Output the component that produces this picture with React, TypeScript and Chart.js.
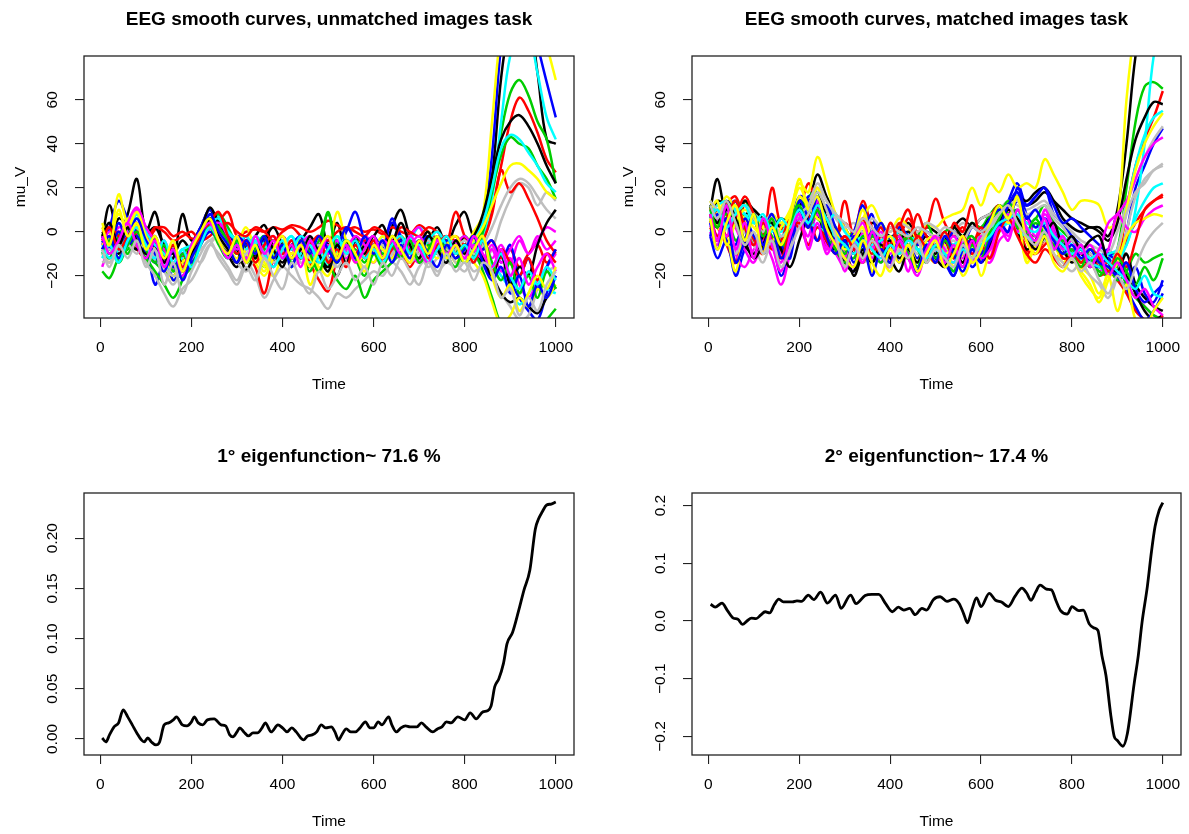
import React, { useEffect, useRef } from "react";
import { Chart, registerables } from "chart.js";

Chart.register(...registerables);

// ---- sampling grid of the smoothed EEG curves (ms) ----
const TIME = [4, 20, 40, 60, 80, 100, 120, 140, 160, 180, 200, 220, 240, 260, 280, 300, 320, 340, 360, 380, 400, 420, 440, 460, 480, 500, 520, 540, 560, 580, 600, 620, 640, 660, 680, 700, 720, 740, 760, 780, 800, 820, 840, 860, 880, 900, 920, 940, 960, 980, 1000];

// R default palette, cycled over the subjects
const PALETTE = ["#000000", "#FF0000", "#00CD00", "#0000FF", "#00FFFF", "#FF00FF", "#FFFF00", "#BEBEBE"];

// ---- unmatched images task: one row per subject (mu_V) ----
const UNMATCHED: number[][] = [
  [-3, 12, -2, 8, 24, 0, 9, -8, -12, 8, -4, 2, 10, 2, -4, -10, -6, -2, 3, -6, -2, -8, -4, 2, 8, -6, 4, -10, -2, -8, -4, -10, 2, 10, -2, -8, -4, 2, -6, 3, 9, -2, 6, 25, 70, 95, 100, 98, 72, 42, 40],
  [2, 0, -4, 3, -2, -6, 1, 2, -2, 0, -3, -2, 3, 5, 9, -2, 0, 1, 0, 2, 1, 3, 2, 0, 2, 5, 3, 1, 2, 0, 1, -1, 2, 0, -1, 3, 0, -3, -2, -4, -3, -6, -2, 10, 30, 50, 61, 55, 45, 33, 27],
  [-18, -21, -12, -8, -4, -10, -14, -18, -20, -20, -16, -6, 2, 8, -2, -8, -12, -6, -10, -14, -8, -12, -6, -10, -4, 8, -6, -12, -8, -14, -6, -10, -4, -8, -12, -6, -10, -4, -8, -6, -2, -6, 2, 20, 45, 63, 69, 62, 50, 42, 22],
  [-6, 2, 14, 6, 0, -6, -24, -14, -20, -12, -6, 2, 10, 4, -4, -8, -2, -10, -4, -14, -8, -4, -10, -6, -12, -4, -8, 0, 9, -4, -10, -6, 4, -2, -10, -4, -8, -2, -10, -6, -10, -4, 4, 35, 85, 110, 115, 105, 85, 68, 52],
  [-8, -10, -4, 2, 6, -2, -6, -10, -16, -10, -8, -2, 4, 7, 0, -6, -2, -8, -4, -10, -6, -2, -8, -4, -12, -8, -2, -6, -10, -4, -8, -2, -6, -10, -4, 2, -4, -8, -2, -6, -4, -8, -2, 15, 50, 80, 88, 90, 72, 52, 42],
  [-16, -6, 2, 0, 10, 2, -8, -4, -14, -8, -10, 0, 5, 2, -6, -2, -8, -4, -12, -6, -2, -8, -4, -10, -6, -14, -8, -4, -10, -2, -6, -10, -4, -8, -2, 2, -6, -2, -8, -4, -6, -10, -4, -12, -6, -14, -4, -10, -2, -8, -4],
  [4, -4, 17, 4, 8, -4, -10, -14, -22, -16, -14, -6, 0, -4, -10, -6, 2, -8, -14, -20, -10, -4, -12, -6, -18, -10, 9, -4, -10, -16, -8, -2, -8, -4, -10, -6, 0, -8, -4, -2, -6, 0, 8, 50, 92, 110, 115, 110, 100, 85, 69],
  [-14, -12, -8, -2, -4, -14, -20, -28, -34, -26, -22, -14, -6, -10, -16, -22, -14, -20, -30, -22, -16, -20, -24, -26, -30, -35, -28, -30, -26, -22, -18, -20, -14, -18, -24, -16, -12, -18, -14, -16, -12, -18, -14, -8, 5, 15, 22, 20, 12, 18, 14],
  [0, -4, 6, 2, -6, -2, 2, -6, -10, -4, -8, -2, 6, 2, -10, -16, -6, -12, -4, -8, -14, -6, -10, -16, -6, -12, -20, -8, -4, -10, -6, -12, -2, -8, -14, -6, -10, -4, -8, -12, -6, -2, 8, 25, 42, 50, 53, 48, 40, 30, 22],
  [-2, -6, 0, -4, -8, -12, -6, -10, -16, -12, -8, -4, 2, 6, 0, -4, -10, -16, -28, -12, -6, -10, -4, -14, -22, -27, -12, -6, -10, -4, -8, -12, -6, -10, -16, -8, -4, -10, -6, 9, -2, -8, -4, 8, 28, 18, 22, 15, 6, -4, -10],
  [-4, -10, -2, 4, -6, -12, -18, -24, -30, -22, -12, -4, 4, 8, 2, -6, -12, -8, -16, -10, -6, -14, -10, -18, -8, -14, -22, -26, -20, -30, -22, -18, -14, -10, -8, -12, -6, -10, -4, -8, -6, -10, 0, 18, 35, 43, 40, 38, 30, 24, 15],
  [-2, -8, 4, -4, 2, -8, -14, -10, -22, -16, -10, -2, 8, 4, -2, -6, -12, -6, -10, -16, -8, -12, -4, -8, -14, -10, -4, -8, -12, -6, -2, -8, 6, -4, -10, -6, -2, -8, -12, -6, -10, -14, -6, -16, -10, -22, -30, -36, -40, -28, -20],
  [-10, -4, -12, -6, 4, -4, -10, -14, -18, -12, -14, -6, 2, 6, 0, -4, -10, -6, -2, -8, -12, -6, -10, -14, -8, -16, -10, -6, -12, -8, -4, -10, -6, -12, -8, -4, -10, -6, -12, -8, -10, -4, 4, 20, 38, 44, 42, 36, 30, 22, 18],
  [-6, 0, -8, -2, 4, -6, -12, -8, -16, -20, -12, -4, 2, -4, -10, -6, -12, -4, -8, -14, -10, -4, -8, -12, -6, -10, -4, -12, -6, -10, -14, -8, -12, -4, -10, -14, -6, -10, -4, -8, -12, -6, -14, -8, -18, -12, -24, -30, -22, -16, -10],
  [-10, -14, -6, 6, 2, -4, -8, -12, -18, -14, -6, -2, 4, 0, -6, -12, -4, -10, -18, -8, -2, -12, -6, -24, -14, -8, -2, -10, -4, -8, -14, -6, -10, -2, -8, -12, -4, -10, -6, -14, -8, -4, 2, 12, 22, 30, 31, 28, 24, 18, 15],
  [-10, -14, -6, -10, -2, -8, -12, -18, -24, -16, -10, -14, -6, -2, -8, -14, -18, -12, -8, -14, -10, -16, -12, -6, -10, -18, -14, -8, -12, -16, -10, -6, -12, -8, -14, -10, -16, -12, -8, -14, -18, -12, -16, -20, -28, -34, -40, -38, -26, -18, -16],
  [-8, -2, -10, -4, -8, 2, -6, -12, -8, -14, -6, 0, 11, 4, -2, -8, -17, -10, -4, 2, -6, -12, -8, -2, -10, -16, -8, -4, -12, -6, -2, 3, -8, -4, -10, -6, 0, -10, -4, -8, -2, -10, -14, -20, -28, -32, -30, -34, -37, -30, -25],
  [0, 2, -2, -6, 0, -4, 2, 0, -4, -2, 0, -4, -2, 2, 4, 0, -2, 2, 0, -4, 0, 2, -2, -6, -2, -4, 0, 2, 0, -2, 2, 0, -4, 2, 0, -2, 2, 0, -4, -2, -6, -2, -8, -4, -12, -8, -16, -10, -6, -14, -8],
  [-8, -12, -4, -10, -2, -8, -4, -10, -14, -10, -6, 0, 6, 2, -4, -10, -6, -12, -8, -4, -10, -6, -12, -4, -8, 9, -10, -6, -12, -8, -4, -10, -6, -2, -8, -12, -6, -10, -4, -8, -14, -10, -18, -30, -42, -45, -50, -48, -45, -40, -35],
  [-4, -8, 0, -6, -2, -10, -6, -12, -16, -10, -14, -6, 0, -4, -8, -2, -6, -10, -4, -8, -12, -6, -2, -10, -6, -12, -8, 2, -4, -10, -6, -12, -8, -4, -10, -6, -2, -8, -4, -10, -6, -12, -8, -4, -14, -6, -20, -12, -26, -16, -8],
  [-6, -12, -8, -2, 8, 0, -6, -10, -14, -8, -6, 0, 4, 6, 0, -4, -8, -2, -6, -10, -4, -8, -2, -6, -10, -14, -8, -4, -6, -10, -4, -8, -12, -6, -2, -8, -4, 0, -6, -10, -8, -12, -6, -14, -20, -26, -33, -28, -22, -26, -28],
  [-4, 2, -6, 4, 11, 2, -4, -8, -14, -10, -12, -4, 2, 4, -2, -8, -4, -10, -6, -2, -8, -12, -6, -2, -10, -6, -12, -8, -2, -6, -10, -4, -8, -12, -6, -2, -8, -4, -10, -6, -2, -8, -12, -6, -14, -8, -2, -10, -4, 2, 0],
  [-6, -2, 8, 2, 9, -2, -10, -16, -20, -14, -10, -4, 2, -2, -8, -4, -10, -14, -20, -12, -6, -10, -4, -12, -16, -20, -10, -6, -14, -10, -4, -8, -12, -6, -10, -4, -8, -12, -6, -2, -10, -14, -20, -32, -42, -38, -30, -34, -26, -30, -24],
  [-12, -8, -14, -6, -10, -4, -12, -16, -20, -18, -12, -8, -4, -2, -8, -14, -10, -6, -12, -16, -10, -6, -14, -10, -6, -12, -16, -10, -6, -12, -8, -14, -10, -6, -12, -8, -4, -10, -14, -8, -4, -10, -6, 2, 12, 20, 24, 22, 16, 10, 6],
  [-2, 4, -6, 2, -4, -10, -2, -14, -6, -18, -10, -4, 6, -2, -8, -14, -4, -12, -2, -8, -16, -6, -12, -2, -10, -18, -6, -14, -4, -10, -2, -12, -6, 4, -6, -12, -2, -8, -14, -4, -10, -2, -12, -20, -10, -24, -16, -20, -6, 4, 10],
  [-4, 2, -8, -2, 4, -8, -4, -12, -6, -16, -8, -2, 4, 9, -2, -10, -4, -14, -6, -2, -10, -4, -12, -6, -2, -14, -8, -16, -6, -12, -4, -14, -8, -2, -10, -4, -12, -6, -2, -10, -6, -14, -4, -18, -8, -14, -20, -12, -22, -10, -14],
  [-10, -4, -14, -6, 0, -8, -14, -6, -18, -10, -16, -4, 2, -6, -12, -4, -14, -8, -2, -12, -6, -16, -4, -10, -18, -8, -14, -4, -12, -20, -10, -16, -6, -12, -4, -14, -8, -2, -10, -16, -6, -12, -4, -14, -22, -14, -28, -20, -30, -18, -26],
  [-8, -2, -12, -4, 6, -4, -10, -18, -8, -22, -12, -4, 8, 0, -6, -14, -4, -10, -2, -12, -6, -16, -4, -10, -2, -8, -14, -6, -12, -2, -10, -4, -14, -6, -12, -4, -10, -16, -6, -12, -8, -2, -14, -22, -16, -28, -20, -34, -24, -30, -20],
  [-12, -6, -14, -4, 2, -6, -12, -4, -14, -8, -16, -6, 2, -4, -12, -6, -14, -4, -10, -16, -8, -2, -12, -6, -14, -8, -2, -10, -4, -12, -8, -14, -6, -2, -10, -6, -14, -8, -2, -10, -6, -12, -4, -16, -10, -20, -26, -18, -24, -16, -22],
  [-2, -10, -4, 4, -6, -12, -4, -16, -8, -18, -6, 0, 4, -4, -12, -6, -14, -2, -10, -4, -12, -6, -16, -4, -10, -2, -12, -6, -14, -8, -2, -12, -4, -10, -2, -8, -14, -4, -10, -6, -12, -2, -10, -16, -8, -20, -12, -24, -16, -10, -18],
  [2, -6, 10, -2, 4, -8, -2, -12, -4, -18, -8, 0, 6, -4, -10, -2, -14, -6, -16, -8, -2, -12, -6, -16, -8, -2, -12, -4, -10, -18, -6, -12, -2, -8, -14, -4, -10, -2, -12, -6, -14, -8, -2, -20, -30, -24, -36, -28, -20, -26, -16],
  [-8, -16, -6, -12, -4, -16, -8, -24, -14, -28, -18, -10, -4, -12, -18, -24, -16, -22, -12, -20, -26, -14, -22, -28, -18, -26, -20, -14, -22, -16, -24, -14, -20, -12, -18, -24, -14, -20, -10, -18, -14, -22, -14, -18, -30, -26, -38, -30, -36, -24, -18],
];

// ---- matched images task: one row per subject (mu_V) ----
const MATCHED: number[][] = [
  [10, 24, 8, 12, 8, 10, 4, 6, 2, 6, 14, 14, 26, 16, 8, 2, -4, 0, 4, 2, -2, 0, 4, -2, 2, 0, -4, 2, 6, 2, 6, 8, 10, 12, 14, 12, 14, 18, 14, 10, 6, 4, 2, 2, -2, 10, 40, 80, 100, 110, 115],
  [6, 2, -6, -14, 14, 6, -4, 20, 2, -2, 8, 22, 12, 6, -2, 4, 0, 14, 2, -4, 2, -2, 6, 0, 2, 15, 4, -2, 2, -4, 0, 4, 8, 10, 6, -8, -10, -4, -6, -12, -12, -10, -14, -16, -18, -14, 10, 30, 42, 52, 64],
  [8, 4, 10, 2, 14, 6, 0, 4, -2, 2, 10, 16, 18, 10, 2, -4, 0, -6, -2, 4, -4, 0, -6, -2, 4, -4, 0, 2, -2, 4, 2, 8, 12, 8, 10, 4, 6, 12, 4, 0, -4, -8, -10, -14, -12, -8, 20, 50, 66, 68, 65],
  [-2, -12, -4, -20, -8, -4, -10, -6, -20, -8, 6, 16, 12, 2, -6, -12, -18, -4, 8, -10, -4, -14, -6, -12, -4, -8, -14, -20, -8, -16, -10, -2, 4, 14, 22, 12, 16, 20, 8, 4, -2, -6, -10, -12, -8, -14, 0, 20, 30, 40, 47],
  [0, 4, 10, 12, 8, 4, 2, 6, 4, 0, 2, 6, 8, 4, 0, -4, -6, -2, -6, -4, -8, -6, -4, -8, -6, -4, -8, -10, -6, -4, -8, -4, 0, 4, 2, -2, -4, 0, -6, -8, -10, -12, -10, -14, -12, -10, -6, 10, 40, 80, 95],
  [0, -6, 6, -10, -16, -8, -4, -12, -24, -10, 2, -6, 10, -8, -2, -10, -16, 0, -12, -4, -14, -6, -18, -2, -14, -6, -16, -8, -12, -4, -10, -14, -4, 0, 4, -2, -8, 4, -6, -10, -8, -14, -10, -18, -14, -20, -14, -28, -34, -38, -40],
  [12, 2, -2, -18, 2, 4, 2, 8, 4, 10, 22, 18, 34, 22, 8, 2, -4, 6, 12, 4, 0, 6, 2, -4, 4, 2, 6, 8, 10, 20, 12, 22, 18, 26, 20, 22, 20, 33, 26, 18, 10, 14, 14, 12, 2, 5, 60, 95, 115, 125, 130],
  [10, 6, 8, 12, 2, 10, 4, 8, -6, 4, 10, 14, 20, 14, 6, 2, 4, 0, 6, 2, 0, 4, 2, 0, 4, 2, -2, 0, 4, 2, 6, 8, 10, 14, 12, 10, 12, 14, 8, 4, 0, -4, -6, -8, -10, 0, 12, 24, 34, 42, 48],
  [6, 14, 12, 8, 14, 10, 6, 2, 6, 4, 12, 14, 16, 10, 0, -6, -20, -10, -6, -2, -8, -4, 0, -6, -2, -8, -4, 2, -2, 4, 0, 6, 2, 12, 16, 14, 18, 20, 14, 6, 2, 0, 2, 0, -4, 4, 24, 42, 52, 59, 58],
  [2, -4, 12, 16, 4, -4, -10, 4, -8, 0, 6, 2, 10, -6, -4, 14, -2, 6, -6, 2, -8, 2, 10, -4, -8, -2, -10, 4, 0, 12, -4, 6, 12, 4, 6, -10, -6, -2, -12, -10, -12, -14, -10, -16, -14, -18, -4, 4, 10, 14, 17],
  [4, 10, 6, 14, 6, 8, -2, 4, -6, 2, 8, 4, 12, 2, -4, -10, -6, -12, -4, -10, -6, -2, -8, -4, -10, -6, -14, -8, -4, -12, -8, 0, 10, 6, 4, 0, -2, 2, -4, -8, -12, -10, -14, -18, -20, -16, -24, -30, -34, -38, -40],
  [12, 6, 10, 14, 2, 6, 0, 8, -4, 4, 16, 14, 8, 12, 2, -4, 0, 12, -2, 4, -4, 2, -2, -6, 0, -4, -6, 0, -6, 2, 0, 6, 10, 8, 14, 12, 16, 20, 12, 4, 6, 2, -2, -6, -10, -14, -22, -16, -28, -32, -22],
  [6, -2, 2, 10, 12, 8, 4, 2, 0, 4, 2, 6, 2, 4, 8, 0, -4, -2, 0, -2, -4, 0, -2, -4, -6, -2, -4, -6, -8, -4, -2, 2, 4, 8, 6, 4, 2, 6, 2, -2, -6, -10, -8, -12, -10, -8, 10, 30, 44, 52, 55],
  [4, -2, 10, 2, -8, -14, -2, 6, -10, -4, 4, -2, 14, -6, -10, -16, -4, -12, -6, -14, -4, -8, -12, -18, -6, -14, -8, -2, -10, -14, -6, -12, 6, -2, 8, 0, -6, 10, 2, -4, -8, -6, -12, -8, 4, 8, 14, 24, 34, 40, 43],
  [14, 8, 16, 10, 6, 2, -2, 4, -4, 0, 16, 12, 20, 6, 0, -6, -2, 10, -4, -10, -18, -6, -12, -4, -10, -14, -6, -16, -10, -6, -20, -8, 0, 8, 2, -12, -6, 2, -4, -14, -10, -16, -20, -28, -18, -10, 10, 28, 40, 48, 54],
  [10, 6, 2, -10, 0, -6, -14, -4, -12, -6, 6, 10, 16, 4, -2, -12, -8, -14, -10, -6, -12, -8, -4, -10, -6, -12, -8, -4, -10, -6, -2, 2, 6, 4, 0, -4, -8, -4, -10, -14, -18, -14, -20, -24, -30, -20, 0, 16, 24, 28, 31],
  [8, 2, 10, 4, -6, -10, -2, 4, -6, 0, 6, 2, 8, -4, -8, -4, -10, -6, -14, -8, -4, -12, -8, -14, -6, -10, -4, -12, -8, -4, -14, -6, 2, 6, 0, -8, -4, 4, -2, -8, -14, -10, -16, -12, -18, -14, -20, -28, -36, -40, -38],
  [4, 10, -2, 6, 16, 8, 0, -8, -4, 6, 2, 8, -4, 2, -6, -2, -8, -4, -10, -2, -6, 4, -4, 8, -2, -6, 0, -8, -2, -6, 2, -4, 6, 10, 4, -4, -10, -6, -2, -12, -12, -16, -14, -20, -18, -22, -28, -36, -40, -44, -38],
  [12, 4, 8, -4, 2, -6, 4, -2, -8, 2, 14, 10, 6, 2, -4, -8, -12, -2, -8, -14, -6, -10, -2, -8, -14, -6, -10, -18, -6, -2, -8, 4, 12, 8, 2, -2, 4, -2, -6, -10, -8, -14, -12, -20, -16, -22, -18, -10, -14, -12, -10],
  [-2, 8, -4, -6, 6, -2, -8, 2, -6, -12, 14, 6, -4, 10, -6, -14, -2, -8, 0, -6, -12, -4, -8, -16, -10, -4, -12, -20, -8, -4, -10, -4, 4, 0, 20, 8, 2, 6, 0, -6, -10, -8, -14, -16, -12, -20, -26, -34, -40, -36, -28],
  [8, 12, 14, 10, 8, 4, 6, 2, -2, 2, 6, 4, 2, 0, -2, -6, -4, -8, -6, -4, -2, -6, -8, -4, -6, -8, -10, -6, -4, -8, -6, -2, 2, 4, 0, -2, -4, 0, -4, -8, -10, -12, -14, -16, -18, -14, -6, 6, 14, 20, 22],
  [2, 6, -2, 8, 2, -6, 4, -4, -14, 0, 6, 2, 8, 0, -6, -12, -4, 4, -8, 0, -10, -2, -10, -4, -12, -2, -8, -14, -4, -10, -2, -8, 2, 8, 0, 6, -2, 8, 0, -8, -4, -10, -6, -12, -8, 8, 2, 0, 6, 10, 12],
  [10, 14, -6, 4, 10, 6, 2, -4, 2, 8, 20, 12, 6, 4, -2, -8, -4, 2, -18, -8, -2, -10, -6, -14, -4, -2, -10, -8, -20, -12, -4, 2, 8, 4, 6, -14, -6, 2, -10, -16, -12, -18, -24, -32, -22, -14, -2, 4, 6, 8, 7],
  [14, 10, 4, 8, 12, 6, 0, 6, -2, 2, 8, 12, 22, 14, 8, 4, 0, 6, 2, -2, 2, 0, -2, 2, 0, -2, 2, 0, -4, 2, 0, 4, 8, 12, 14, 8, 10, 12, 6, 2, -4, -6, -10, -12, -16, -8, 8, 18, 22, 28, 30],
  [12, 4, 14, 6, -4, -12, -6, 2, -8, -16, -4, 8, 16, 6, -8, -14, -18, -8, -14, -6, -12, -18, -8, -14, -6, -12, -16, -8, -14, -4, -12, -6, 4, 10, 6, -2, -8, -2, 4, -6, -2, -8, -4, -2, -14, -18, -10, -24, -30, -34, -36],
  [8, -2, 6, 14, 2, -6, 4, -4, -12, 0, 4, -6, 2, -4, -10, -2, -8, -14, -4, -10, 4, -6, -12, -2, -8, -14, -4, -12, -2, -10, -6, -12, 0, 6, -2, -10, -14, -8, -12, -16, -10, -14, -8, -12, -18, -10, -16, -4, 10, 14, 16],
  [10, 2, 12, 4, -4, 8, -2, 6, -6, 4, 12, 2, 10, -2, -8, -14, -6, -12, -2, -8, -14, -4, -10, -16, -6, -12, -4, -10, -16, -6, -12, -2, 6, 14, 4, 0, 6, -2, -8, -4, -10, -16, -8, -14, -20, -12, -18, -24, -16, -22, -12],
  [4, -8, 6, -14, -4, 8, -6, 2, -12, -4, 10, 2, 16, -2, -10, -4, -14, -6, -20, -8, -14, -4, -12, -18, -6, -14, -2, -10, -18, -8, -14, -4, 2, 12, 18, 6, 10, 2, -4, -10, -6, -12, -8, -14, -16, -20, -14, -26, -32, -28, -24],
  [6, 10, 2, 8, 12, 4, 8, 0, 6, 2, 10, 4, 12, 6, -2, -6, -10, -4, -8, -12, -6, -10, -4, -8, -12, -6, -10, -14, -8, -12, -6, -2, 4, 6, 8, 2, 0, 4, -2, -6, -10, -8, -12, -10, -14, -18, -22, -26, -20, -28, -30],
  [8, -4, 12, -8, 4, -12, 6, -6, -18, -2, 8, -8, 4, -10, -4, -18, -6, -14, 0, -10, -16, -4, -12, -20, -8, -2, -14, -6, -16, -4, -12, -8, 2, -4, 10, 2, -4, 6, -8, -2, -12, -6, -16, -10, -20, -14, -22, -30, -26, -34, -38],
  [6, -8, 4, 12, -4, 8, -10, 2, -6, 6, 24, 10, 16, 2, -6, -12, -16, -4, -14, -20, -8, -14, -6, -18, -10, -4, -16, -10, -2, -14, -8, 4, 12, 6, 16, -4, -10, -2, -14, -18, -12, -20, -26, -30, -20, -36, -24, -40, -44, -36, -30],
  [12, 6, 14, 4, -6, 0, -10, -4, -16, -8, 2, 8, 18, 10, -2, -16, -6, -12, -4, -10, -16, -8, -12, -4, -14, -8, -12, -16, -6, -12, -4, 2, 8, 12, 4, -2, -6, 0, -10, -16, -12, -18, -14, -22, -28, -20, -26, -16, -6, 0, 4],
];

// ---- first eigenfunction ----
const EIG1_TIME = [4, 12, 20, 30, 40, 50, 60, 70, 80, 90, 96, 104, 112, 122, 130, 140, 150, 160, 167, 180, 190, 200, 206, 215, 225, 235, 250, 265, 275, 284, 291, 300, 306, 315, 325, 335, 345, 355, 362, 375, 390, 400, 410, 420, 430, 440, 446, 455, 465, 475, 485, 495, 507, 515, 523, 530, 540, 550, 560, 570, 582, 592, 600, 610, 618, 633, 640, 650, 660, 670, 680, 695, 705, 715, 730, 740, 750, 760, 770, 785, 800, 812, 825, 840, 850, 858, 866, 875, 885, 893, 905, 918, 930, 943, 955, 962, 970, 980, 990, 1000];
const EIG1_VALUE = [0.001, -0.003, 0.004, 0.012, 0.016, 0.029, 0.022, 0.014, 0.006, -0.001, -0.003, 0.001, -0.003, -0.006, -0.003, 0.014, 0.016, 0.019, 0.022, 0.014, 0.013, 0.017, 0.022, 0.016, 0.014, 0.019, 0.020, 0.014, 0.013, 0.004, 0.002, 0.007, 0.011, 0.007, 0.003, 0.006, 0.006, 0.011, 0.016, 0.007, 0.014, 0.011, 0.007, 0.011, 0.007, 0.001, -0.001, 0.003, 0.004, 0.007, 0.014, 0.011, 0.012, 0.007, -0.001, 0.004, 0.010, 0.007, 0.007, 0.011, 0.017, 0.011, 0.011, 0.017, 0.014, 0.022, 0.014, 0.007, 0.011, 0.013, 0.012, 0.012, 0.016, 0.012, 0.007, 0.010, 0.012, 0.017, 0.016, 0.022, 0.019, 0.026, 0.020, 0.027, 0.028, 0.033, 0.052, 0.060, 0.075, 0.095, 0.106, 0.127, 0.148, 0.168, 0.209, 0.219, 0.226, 0.233, 0.234, 0.236];

// ---- second eigenfunction ----
const EIG2_TIME = [5, 15, 30, 42, 55, 65, 75, 85, 95, 105, 115, 125, 135, 145, 155, 165, 185, 195, 205, 220, 232, 247, 262, 280, 292, 313, 325, 345, 360, 375, 390, 405, 418, 430, 443, 455, 470, 480, 495, 510, 525, 540, 552, 562, 570, 580, 590, 600, 618, 632, 645, 660, 675, 690, 700, 710, 720, 730, 745, 755, 765, 775, 790, 800, 815, 825, 838, 848, 857, 866, 875, 885, 893, 900, 912, 922, 937, 946, 954, 966, 975, 983, 992, 1000];
const EIG2_VALUE = [0.029, 0.024, 0.031, 0.018, 0.005, 0.003, -0.006, 0.000, 0.005, 0.004, 0.010, 0.016, 0.014, 0.028, 0.038, 0.033, 0.033, 0.035, 0.034, 0.045, 0.037, 0.050, 0.031, 0.045, 0.022, 0.045, 0.030, 0.044, 0.046, 0.046, 0.030, 0.016, 0.024, 0.019, 0.022, 0.011, 0.022, 0.019, 0.037, 0.042, 0.034, 0.038, 0.030, 0.012, -0.003, 0.020, 0.040, 0.025, 0.048, 0.036, 0.033, 0.025, 0.043, 0.057, 0.049, 0.036, 0.050, 0.062, 0.055, 0.054, 0.035, 0.018, 0.012, 0.025, 0.018, 0.019, -0.005, -0.012, -0.016, -0.060, -0.095, -0.160, -0.200, -0.207, -0.217, -0.195, -0.108, -0.060, -0.004, 0.060, 0.120, 0.164, 0.192, 0.205];

// ---- axes ----
const X_TICKS = [0, 200, 400, 600, 800, 1000];
const EEG_Y_TICKS = [-20, 0, 20, 40, 60];
const EEG_Y_LABELS = ["\u221220", "0", "20", "40", "60"];
const EIG1_Y_TICKS = [0, 0.05, 0.1, 0.15, 0.2];
const EIG1_Y_LABELS = ["0.00", "0.05", "0.10", "0.15", "0.20"];
const EIG2_Y_TICKS = [-0.2, -0.1, 0, 0.1, 0.2];
const EIG2_Y_LABELS = ["\u22120.2", "\u22120.1", "0.0", "0.1", "0.2"];

const PAGE_W = 1189;
const PAGE_H = 834;
const AXIS_SPACE = 20;
const X_MIN = -36;
const X_MAX = 1040;
const FONT = '"Liberation Sans", Arial, Helvetica, sans-serif';

type Series = { x: number[]; y: number[]; color: string; width: number; smooth: "default" | "monotone" };
type Panel = {
  box: [number, number, number, number];
  yMin: number;
  yMax: number;
  yTicks: number[];
  yLabels: string[];
  title: string;
  ylab?: string;
  series: Series[];
};

const curves = (rows: number[][]): Series[] =>
  rows.map((row, i) => ({ x: TIME, y: row, color: PALETTE[i % PALETTE.length], width: 2.5, smooth: "default" }));

const PANELS: Panel[] = [
  {
    box: [84, 56, 574, 318],
    yMin: -39.2,
    yMax: 79.9,
    yTicks: EEG_Y_TICKS,
    yLabels: EEG_Y_LABELS,
    title: "EEG smooth curves, unmatched images task",
    ylab: "mu_V",
    series: curves(UNMATCHED),
  },
  {
    box: [692, 56, 1181, 318],
    yMin: -39.2,
    yMax: 79.9,
    yTicks: EEG_Y_TICKS,
    yLabels: EEG_Y_LABELS,
    title: "EEG smooth curves, matched images task",
    ylab: "mu_V",
    series: curves(MATCHED),
  },
  {
    box: [84, 493, 574, 755],
    yMin: -0.016,
    yMax: 0.245,
    yTicks: EIG1_Y_TICKS,
    yLabels: EIG1_Y_LABELS,
    title: "1\u00b0 eigenfunction~ 71.6 %",
    series: [{ x: EIG1_TIME, y: EIG1_VALUE, color: "#000000", width: 2.8, smooth: "monotone" }],
  },
  {
    box: [692, 493, 1181, 755],
    yMin: -0.2322,
    yMax: 0.2218,
    yTicks: EIG2_Y_TICKS,
    yLabels: EIG2_Y_LABELS,
    title: "2\u00b0 eigenfunction~ 17.4 %",
    series: [{ x: EIG2_TIME, y: EIG2_VALUE, color: "#000000", width: 2.8, smooth: "monotone" }],
  },
];

// Box, titles and tick labels in the style of base R graphics.
function framePlugin(panel: Panel) {
  return {
    id: "rFrame",
    afterDraw(chart: any) {
      const { ctx, chartArea: a, scales } = chart;
      const cx = (a.left + a.right) / 2;
      ctx.save();
      ctx.strokeStyle = "#222";
      ctx.lineWidth = 1.3;
      ctx.strokeRect(a.left, a.top, a.right - a.left, a.bottom - a.top);

      ctx.fillStyle = "#000";
      ctx.textAlign = "center";
      ctx.textBaseline = "middle";
      ctx.font = `bold 19px ${FONT}`;
      ctx.fillText(panel.title, cx, a.top - 36);

      ctx.font = `15.5px ${FONT}`;
      X_TICKS.forEach((v) => ctx.fillText(String(v), scales.x.getPixelForValue(v), a.bottom + 29.5));
      ctx.fillText("Time", cx, a.bottom + 67);

      panel.yTicks.forEach((v, i) => {
        ctx.save();
        ctx.translate(a.left - 31, scales.y.getPixelForValue(v));
        ctx.rotate(-Math.PI / 2);
        ctx.fillText(panel.yLabels[i], 0, 0);
        ctx.restore();
      });
      if (panel.ylab) {
        ctx.save();
        ctx.translate(a.left - 63, (a.top + a.bottom) / 2);
        ctx.rotate(-Math.PI / 2);
        ctx.fillText(panel.ylab, 0, 0);
        ctx.restore();
      }
      ctx.restore();
    },
  };
}

function makeChart(canvas: HTMLCanvasElement, panel: Panel) {
  const [left, top, right, bottom] = panel.box;
  const tickGrid = {
    display: true,
    drawOnChartArea: false,
    drawTicks: true,
    tickLength: 9,
    color: "#222",
    lineWidth: 1.1,
  };
  // later subjects are painted on top of earlier ones
  const datasets = panel.series
    .map((s) => ({
      data: s.x.map((x, i) => ({ x, y: s.y[i] })),
      borderColor: s.color,
      borderWidth: s.width,
      pointRadius: 0,
      pointHoverRadius: 0,
      fill: false,
      tension: 0.35,
      cubicInterpolationMode: s.smooth,
    }))
    .reverse();

  return new Chart(canvas, {
    type: "line",
    data: { datasets },
    options: {
      animation: false,
      responsive: false,
      events: [],
      layout: {
        padding: {
          left: left - AXIS_SPACE,
          top,
          right: PAGE_W - right,
          bottom: PAGE_H - bottom - AXIS_SPACE,
        },
      },
      plugins: { legend: { display: false }, tooltip: { enabled: false } },
      scales: {
        x: {
          type: "linear",
          min: X_MIN,
          max: X_MAX,
          afterBuildTicks: (ax: any) => {
            ax.ticks = X_TICKS.map((v) => ({ value: v }));
          },
          afterFit: (ax: any) => {
            ax.height = AXIS_SPACE;
          },
          ticks: { display: false },
          grid: tickGrid,
          border: { display: false },
        },
        y: {
          type: "linear",
          min: panel.yMin,
          max: panel.yMax,
          afterBuildTicks: (ax: any) => {
            ax.ticks = panel.yTicks.map((v) => ({ value: v }));
          },
          afterFit: (ax: any) => {
            ax.width = AXIS_SPACE;
          },
          ticks: { display: false },
          grid: tickGrid,
          border: { display: false },
        },
      },
    } as any,
    plugins: [framePlugin(panel)],
  });
}

export default function App() {
  const canvases = useRef<(HTMLCanvasElement | null)[]>([]);

  useEffect(() => {
    const charts = PANELS.map((p, i) => makeChart(canvases.current[i] as HTMLCanvasElement, p));
    return () => charts.forEach((c) => c.destroy());
  }, []);

  return (
    <div style={{ position: "absolute", left: 0, top: 0, width: PAGE_W, height: PAGE_H, background: "#fff" }}>
      {PANELS.map((p, i) => (
        <canvas
          key={p.title}
          ref={(el) => {
            canvases.current[i] = el;
          }}
          width={PAGE_W}
          height={PAGE_H}
          style={{ position: "absolute", left: 0, top: 0 }}
        />
      ))}
    </div>
  );
}
